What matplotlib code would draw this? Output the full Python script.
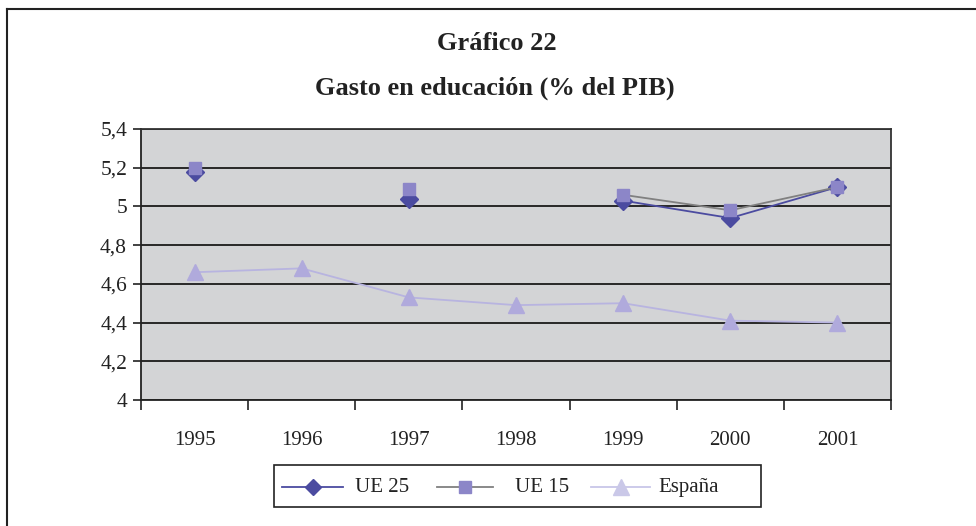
import numpy as np
import matplotlib
matplotlib.use('Agg')
import matplotlib.pyplot as plt
from matplotlib.lines import Line2D
from matplotlib.patches import Rectangle

# --- data ---
years = ['1995', '1996', '1997', '1998', '1999', '2000', '2001']
ue25 = [5.18, np.nan, 5.04, np.nan, 5.03, 4.94, 5.10]
ue15 = [5.20, np.nan, 5.09, np.nan, 5.06, 4.98, 5.10]
espana = [4.66, 4.68, 4.53, 4.49, 4.50, 4.41, 4.40]
yticks = [4.0, 4.2, 4.4, 4.6, 4.8, 5.0, 5.2, 5.4]
series_names = ['UE 25', 'UE 15', 'España']

plt.rcParams['font.family'] = ['Liberation Serif', 'DejaVu Serif']

fig = plt.figure(figsize=(9.76, 5.26), dpi=100)
W, H = 976, 526
ax = fig.add_axes([141 / W, 1 - 400 / H, 750 / W, 271 / H])
ax.set_facecolor('#d3d4d6')

x = np.arange(len(years))
ax.plot(x, ue25, color='#4b4ba0', lw=1.3, marker='D', ms=9,
        mfc='#4b4ba0', mec='#4b4ba0', zorder=3)
ax.plot(x, ue15, color='#808080', lw=1.3, marker='s', ms=8,
        mfc='#8c86c8', mec='#8c86c8', zorder=4)
ax.plot(x, espana, color='#b8b4e0', lw=1.3, marker='^', ms=11,
        mfc='#b0aadc', mec='#b0aadc', zorder=3)

ax.set_xlim(-0.5, len(years) - 0.5)
ax.set_ylim(4, 5.4)
ax.set_yticks(yticks)
ax.set_yticklabels([('%g' % v).replace('.', ',') for v in yticks], fontsize=15.5, color='#222222')
ax.yaxis.grid(True, color='#1a1a1a', lw=1.3)
ax.set_axisbelow(True)

ax.set_xticks(x)
ax.set_xticklabels(years, fontsize=15, color='#222222')
ax.set_xticks(np.arange(-0.5, len(years), 1), minor=True)
ax.tick_params(axis='x', which='major', length=0, pad=22)
ax.tick_params(axis='x', which='minor', length=7, width=1.2, color='#222222')
ax.tick_params(axis='y', length=6, width=1.2, color='#222222', pad=4)

for s in ['left', 'bottom']:
    ax.spines[s].set_color('#222222')
    ax.spines[s].set_linewidth(1.3)
for s in ['top', 'right']:
    ax.spines[s].set_color('#333333')
    ax.spines[s].set_linewidth(1.3)

fig.text(497 / W, 1 - 43 / H, 'Gráfico 22', ha='center', va='center',
         fontsize=19, fontweight='bold', color='#222222')
fig.text(495 / W, 1 - 88 / H, 'Gasto en educación (% del PIB)', ha='center', va='center',
         fontsize=19, fontweight='bold', color='#222222')

# legend drawn by hand to match the original spacing
styles = [
    dict(color='#4b4ba0', marker='D', ms=8, mfc='#4b4ba0', mec='#4b4ba0'),
    dict(color='#808080', marker='s', ms=8, mfc='#8c86c8', mec='#8c86c8'),
    dict(color='#c8c6e8', marker='^', ms=11, mfc='#cac8e8', mec='#cac8e8'),
]
seg = [(282, 343), (437, 493), (591, 650)]
txt_x = [355, 515, 658]
ly = 1 - 487 / H
fig.add_artist(Rectangle((274 / W, 1 - 507 / H), 487 / W, 42 / H, transform=fig.transFigure,
                         fill=False, edgecolor='#222222', lw=1.2))
for (x0, x1), tx, name, st in zip(seg, txt_x, series_names, styles):
    fig.add_artist(Line2D([x0 / W, x1 / W], [ly, ly], lw=1.3, color=st['color']))
    fig.add_artist(Line2D([(x0 + x1) / 2 / W], [ly], lw=0, marker=st['marker'], ms=st['ms'],
                          mfc=st['mfc'], mec=st['mec']))
    fig.text(tx / W, 1 - 492 / H, name, ha='left', va='baseline', fontsize=15, color='#222222')

# outer border (left and top edges visible)
fig.add_artist(Line2D([7 / W, 7 / W], [0, 1 - 9 / H], color='#222222', lw=1.5))
fig.add_artist(Line2D([7 / W, 1], [1 - 9 / H, 1 - 9 / H], color='#222222', lw=1.5))

fig.savefig('out.png', dpi=100)
